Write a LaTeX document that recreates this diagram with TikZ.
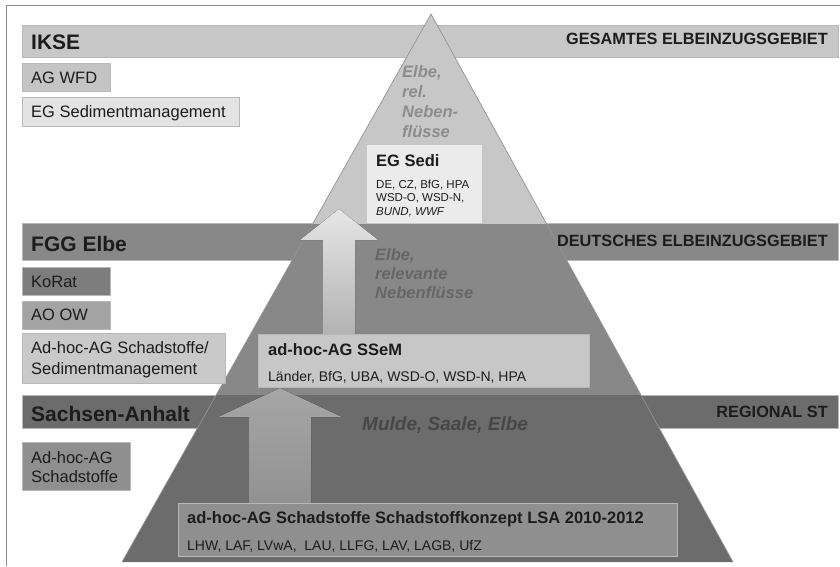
\documentclass[tikz,border=0pt]{standalone}
\usepackage{fontspec}
\setmainfont{Liberation Sans}

\definecolor{tierlight}{HTML}{C7C7C7}
\definecolor{tiermid}{HTML}{888888}
\definecolor{tierdark}{HTML}{6C6C6C}
\definecolor{boxpale}{HTML}{EBEBEB}
\definecolor{boxgrey}{HTML}{8F8F8F}
\definecolor{ink}{HTML}{1C1C1C}

\begin{document}
\begin{tikzpicture}[x=1pt,y=-1pt,line join=round,
  band/.style={draw=black!28,line width=0.5pt,anchor=north west,inner sep=0pt,minimum width=816pt},
  panel/.style={draw=black!28,line width=0.5pt,anchor=north west,inner sep=0pt},
  bandname/.style={font=\bfseries\fontsize{21}{24}\selectfont,text=ink,anchor=base west,inner sep=0pt},
  bandarea/.style={font=\bfseries\fontsize{16.3}{18}\selectfont,text=ink,anchor=base east,inner sep=0pt},
  paneltext/.style={font=\fontsize{16.5}{19}\selectfont,text=ink,anchor=base west,inner sep=0pt},
  panelhead/.style={font=\bfseries\fontsize{16.5}{19}\selectfont,text=ink,anchor=base west,inner sep=0pt},
  members/.style={font=\fontsize{14}{16}\selectfont,text=ink,anchor=base west,inner sep=0pt},
  river/.style={font=\bfseries\itshape\fontsize{16.5}{20}\selectfont,anchor=north west,align=left,inner sep=0pt}]
\useasboundingbox (0,0) rectangle (840,566);
\draw[black!45,line width=0.8pt] (6,566) -- (6,5) -- (840,5);

% level bands
\node[band,fill=tierlight,minimum height=32pt] (ikse) at (22,25) {};
\node[band,fill=tiermid,minimum height=37pt] (fgg) at (22,223) {};
\node[band,fill=tierdark,minimum height=33pt] (lsa) at (22,395) {};

% pyramid
\coordinate (top) at (431,14);
\coordinate (bl) at (122,562);
\coordinate (br) at (733,562);
\begin{scope}
\clip (top) -- (bl) -- (br) -- cycle;
\fill[tierlight] (0,0) rectangle (840,224);
\fill[tiermid] (0,224) rectangle (840,395);
\fill[tierdark] (0,395) rectangle (840,566);
\end{scope}
\draw[black!42,line width=0.7pt] (bl) -- (top) -- (br);

\node[bandname] (iksename) at (31,49) {IKSE};
\node[bandarea] (iksearea) at (828,44) {GESAMTES ELBEINZUGSGEBIET};
\node[bandname] (fggname) at (31,251) {FGG Elbe};
\node[bandarea] (fggarea) at (828,246) {DEUTSCHES ELBEINZUGSGEBIET};
\node[bandname] (lsaname) at (31,421) {Sachsen-Anhalt};
\node[bandarea] (lsaarea) at (828,417) {REGIONAL ST};

% working groups on the left
\node[panel,fill=black!23,minimum width=88pt,minimum height=28pt] (agwfd) at (22,63) {};
\node[paneltext] (agwfdtext) at (31,83.5) {AG WFD};
\node[panel,fill=black!11,minimum width=217pt,minimum height=29pt] (egsm) at (22,97) {};
\node[paneltext] (egsmtext) at (31,117.5) {EG Sedimentmanagement};
\node[panel,fill=black!51,minimum width=88pt,minimum height=28pt] (korat) at (22,267) {};
\node[paneltext] (korattext) at (31,287) {KoRat};
\node[panel,fill=black!36,minimum width=88pt,minimum height=28pt] (aoow) at (22,301) {};
\node[paneltext] (aoowtext) at (31,320) {AO OW};
\node[panel,fill=black!21,minimum width=203pt,minimum height=50pt] (ahsm) at (22,333) {};
\node[paneltext] (ahsmtexta) at (31,353) {Ad-hoc-AG Schadstoffe/};
\node[paneltext] (ahsmtextb) at (31,374) {Sedimentmanagement};
\node[panel,fill=black!44,minimum width=108pt,minimum height=48pt] (ahs) at (22,442) {};
\node[paneltext] (ahstexta) at (31,463) {Ad-hoc-AG};
\node[paneltext] (ahstextb) at (31,482) {Schadstoffe};

% arrows between the levels
\coordinate (uptip) at (339,209);
\fill[top color=black!10,bottom color=black!30] (uptip) -- ++(39,31) -- ++(-23,0) -- ++(0,94) -- ++(-32,0) -- ++(0,-94) -- ++(-23,0) -- cycle;
\coordinate (lowtip) at (280,388);
\fill[top color=black!35,bottom color=black!43] (lowtip) -- ++(62,29) -- ++(-31,0) -- ++(0,86) -- ++(-62,0) -- ++(0,-86) -- ++(-31,0) -- cycle;

% groups inside the pyramid
\node[panel,fill=boxpale,draw=none,minimum width=115pt,minimum height=78pt] (egsedi) at (367,145) {};
\node[panelhead] (egseditext) at (376,166) {EG Sedi};
\node[anchor=north west,align=left,inner sep=0pt,text=ink,font=\fontsize{11.5}{13.5}\selectfont] (egsedimem) at (376,179.5) {DE, CZ, BfG, HPA\\WSD-O, WSD-N,\\\textit{BUND, WWF}};
\node[panel,fill=tierlight,minimum width=331pt,minimum height=53pt] (ssem) at (258,334) {};
\node[panelhead] (ssemtext) at (268,355) {ad-hoc-AG SSeM};
\node[members] (ssemmem) at (268,381.5) {Länder, BfG, UBA, WSD-O, WSD-N, HPA};
\node[panel,fill=boxgrey,minimum width=499pt,minimum height=53pt] (lsak) at (178,503) {};
\node[panelhead] (lsaktext) at (187,523.5) {ad-hoc-AG Schadstoffe Schadstoffkonzept LSA 2010-2012};
\node[members] (lsakmem) at (187,550) {LHW, LAF, LVwA,~ LAU, LLFG, LAV, LAGB, UfZ};

% river systems
\node[river,text=black!45] (rivtop) at (402,65) {Elbe,\\rel.\\Neben-\\flüsse};
\node[river,text=black!60,font=\bfseries\itshape\fontsize{16.5}{19}\selectfont] (rivmid) at (375,248) {Elbe,\\relevante\\Nebenflüsse};
\node[river,anchor=base west,text=black!72,font=\bfseries\itshape\fontsize{19}{22}\selectfont] (rivlow) at (362,430) {Mulde, Saale, Elbe};
\end{tikzpicture}
\end{document}
